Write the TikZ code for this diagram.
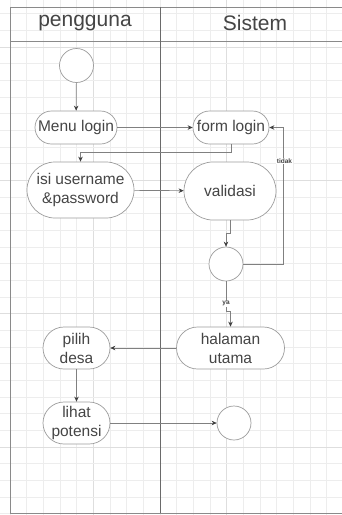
\documentclass[tikz,border=0pt]{standalone}
\usepackage{fontspec}
\setmainfont{Liberation Sans}
\usetikzlibrary{arrows.meta,calc}
\definecolor{gridc}{HTML}{EDEDED}
\definecolor{gridd}{HTML}{DEDEDE}
\definecolor{txt}{HTML}{454545}
\definecolor{edgec}{HTML}{9C9C9C}
\definecolor{wire}{HTML}{808080}
\definecolor{tipc}{HTML}{404040}
\definecolor{framec}{HTML}{8A8A8A}
\definecolor{divc}{HTML}{6A6A6A}
\tikzset{
  act/.style={draw=edgec, line width=0.7pt, fill=white, text=txt, align=center, inner sep=0pt,
    font=\fontsize{15.5}{19}\selectfont},
  circ/.style={draw=edgec, line width=0.7pt, fill=white, circle, minimum size=34pt, inner sep=0pt},
  arr/.style={draw=wire, line width=0.7pt, -{Stealth[length=5pt,width=4.5pt,color=tipc]}},
  lbl/.style={fill=white, text=txt, inner sep=0.8pt, font=\fontsize{6.5}{7}\selectfont\bfseries},
  head/.style={text=txt, font=\fontsize{21}{25}\selectfont},
  gridline/.style={draw=gridc, line width=0.6pt},
  gridbold/.style={draw=gridd, line width=0.8pt},
  frameline/.style={draw=framec, line width=0.8pt},
}
\begin{document}
\begin{tikzpicture}[x=1pt,y=-1pt]
\useasboundingbox (0,0) rectangle (342,515);
\fill[white] (0,0) rectangle (342,515);
% grid
\foreach \i in {0,...,20}{
  \pgfmathtruncatemacro{\m}{mod(\i,8)}
  \ifnum\m=5
    \draw[gridbold] (10+\i*16.667,0) -- (10+\i*16.667,515);
  \else
    \draw[gridline] (10+\i*16.667,0) -- (10+\i*16.667,515);
  \fi
}
\foreach \j in {0,...,30}{
  \pgfmathtruncatemacro{\m}{mod(\j,8)}
  \ifnum\m=2
    \draw[gridbold] (0,13.7+\j*16.667) -- (342,13.7+\j*16.667);
  \else
    \draw[gridline] (0,13.7+\j*16.667) -- (342,13.7+\j*16.667);
  \fi
}
% frame
\draw[frameline] (10,7) -- (350,7);
\draw[frameline] (10,7) -- (10,513) -- (350,513);
\draw[frameline] (10,41) -- (350,41);
\draw[draw=divc, line width=0.9pt] (160,7) -- (160,513);
\node[head] (h1) at (85,23) {pengguna};
\node[head] (h2) at (255,23) {Sistem};

% nodes
\node[circ] (start) at (76.5,65.5) {};
\node[act, minimum width=82pt, minimum height=33pt, rounded corners=16.5pt] (menu) at (76,127.5) {Menu login};
\node[act, minimum width=76pt, minimum height=33pt, rounded corners=16.5pt] (form) at (231,127.5) {form login};
\node[act, minimum width=107pt, minimum height=56pt, rounded corners=28pt] (isi) at (80.5,190) {isi username\\\&password};
\node[act, minimum width=92pt, minimum height=58pt, rounded corners=29pt] (valid) at (230,191) {validasi};
\node[circ] (dec) at (226,264) {};
\node[act, minimum width=108pt, minimum height=42pt, rounded corners=21pt] (hal) at (230.5,348) {halaman\\utama};
\node[act, minimum width=67pt, minimum height=42pt, rounded corners=21pt] (pilih) at (76.5,348) {pilih\\desa};
\node[act, minimum width=67pt, minimum height=42pt, rounded corners=21pt] (lihat) at (76.5,423) {lihat\\potensi};
\node[circ] (end) at (234,423) {};

% connectors
\draw[arr] (start) -- (menu);
\draw[arr] (menu) -- (form);
\draw[arr] (form.south) -- ++(0,8) -| (isi.north);
\draw[arr] (isi) -- (valid);
\draw[arr] (valid.south) -- ++(0,13) -| (dec.north);
\draw[arr] (dec.east) -| ([xshift=14pt]form.east) -- (form.east);
\draw[arr] (dec.south) -- node[lbl, pos=0.75] {ya} ++(0,30) -| (hal.north);
\draw[arr] (hal) -- (pilih);
\draw[arr] (pilih) -- (lihat);
\draw[arr] (lihat) -- (end);
\node[lbl] (tidak) at (284.5,161) {tidak};
\end{tikzpicture}
\end{document}
